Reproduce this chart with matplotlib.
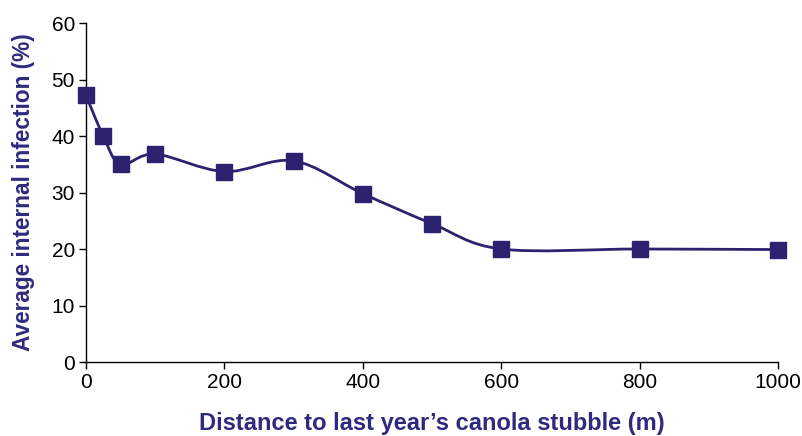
import numpy as np
import matplotlib
matplotlib.use("Agg")
import matplotlib.pyplot as plt
from matplotlib.path import Path
from matplotlib.patches import PathPatch

# Distance from last year's canola stubble (m) and mean internal infection (%)
distance_m = [0, 25, 50, 100, 200, 300, 400, 500, 600, 800, 1000]
infection_pct = [47.2, 40.0, 35.0, 36.8, 33.7, 35.6, 29.8, 24.5, 20.0, 20.0, 19.9]

x_ticks = [0, 200, 400, 600, 800, 1000]
y_ticks = [0, 10, 20, 30, 40, 50, 60]

NAVY = "#2b2270"
LABEL = "#2e2a7e"

plt.rcParams["font.family"] = ["Liberation Sans", "DejaVu Sans"]

fig = plt.figure(figsize=(8.03, 4.36), dpi=100)
ax = fig.add_axes([86 / 803, (436 - 362) / 436, (778 - 86) / 803, (362 - 23) / 436])


def smooth_path(xs, ys):
    """Catmull-Rom style Bezier through the points (spreadsheet 'smoothed line')."""
    pts = np.column_stack([xs, ys]).astype(float)
    n = len(pts)
    verts = [pts[0]]
    codes = [Path.MOVETO]
    for i in range(n - 1):
        p0 = pts[i - 1] if i > 0 else pts[i]
        p1 = pts[i]
        p2 = pts[i + 1]
        p3 = pts[i + 2] if i + 2 < n else pts[i + 1]
        c1 = p1 + (p2 - p0) / 6.0
        c2 = p2 - (p3 - p1) / 6.0
        verts += [c1, c2, p2]
        codes += [Path.CURVE4] * 3
    return Path(verts, codes)


ax.add_patch(PathPatch(smooth_path(distance_m, infection_pct), facecolor="none",
                       edgecolor=NAVY, lw=2.0, zorder=2))
ax.plot(distance_m, infection_pct, linestyle="none", marker="s", markersize=11.5,
        color=NAVY, zorder=3, clip_on=False)

ax.set_xlim(0, 1000)
ax.set_ylim(0, 60)
ax.set_xticks(x_ticks)
ax.set_yticks(y_ticks)

for side in ("top", "right"):
    ax.spines[side].set_visible(False)
for side in ("left", "bottom"):
    ax.spines[side].set_linewidth(1.0)
    ax.spines[side].set_color("black")

ax.tick_params(axis="both", direction="out", length=5, width=1.0, labelsize=15,
               colors="black", pad=3)

ax.set_xlabel("Distance to last year\u2019s canola stubble (m)", fontsize=17,
              fontweight="bold", color=LABEL, labelpad=14)
ax.set_ylabel("Average internal infection (%)", fontsize=16.3,
              fontweight="bold", color=LABEL, labelpad=12)

fig.savefig("out.png", dpi=100)
